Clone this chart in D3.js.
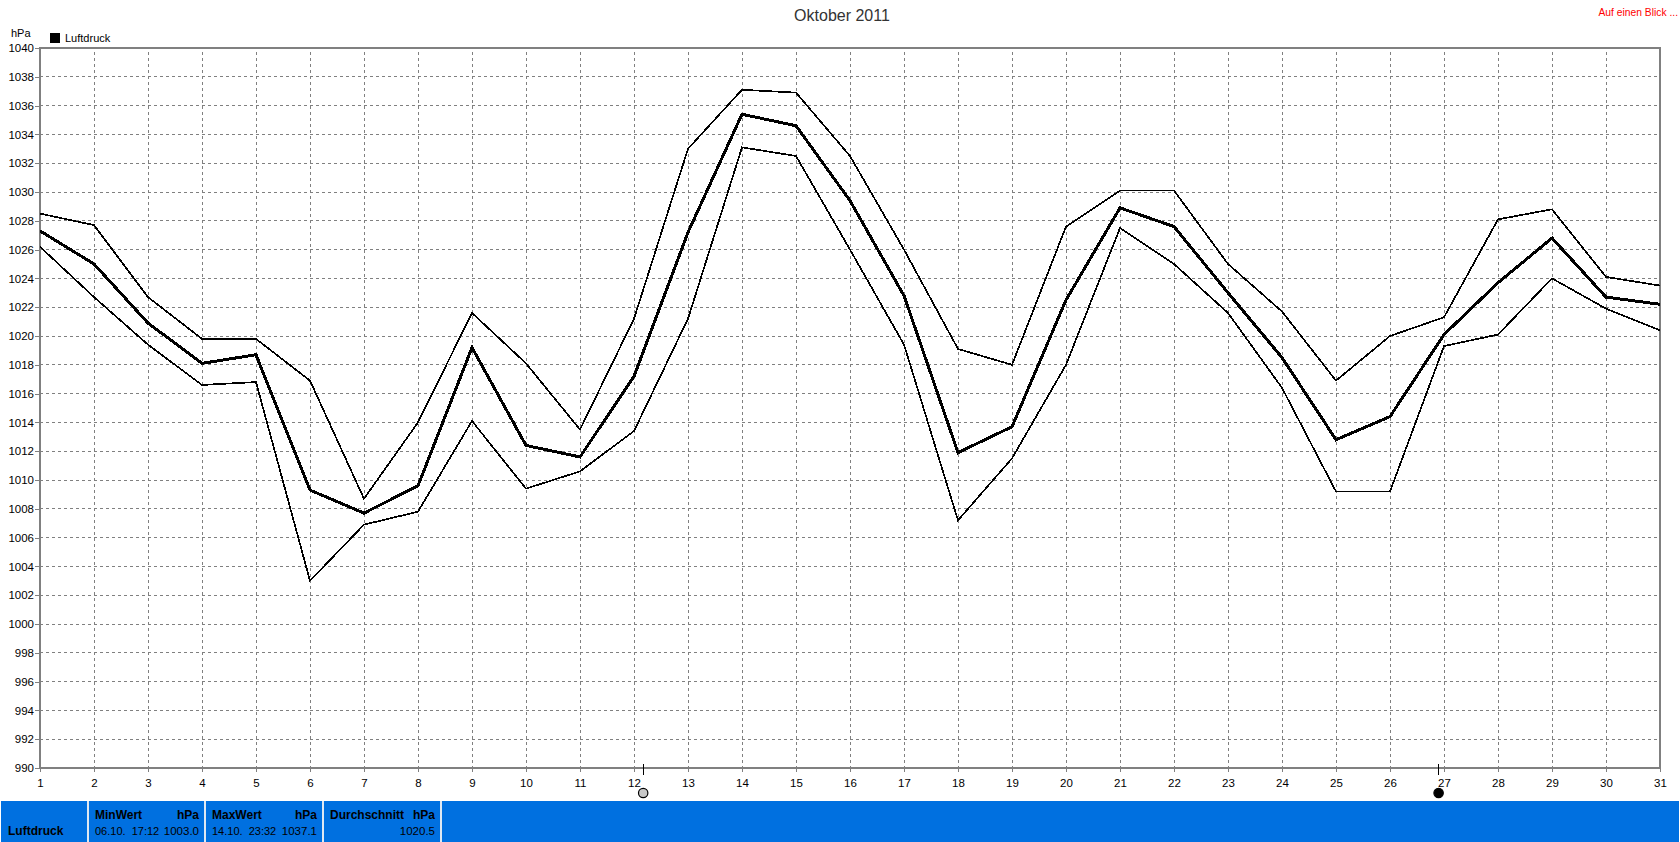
<!DOCTYPE html>
<html><head><meta charset="utf-8">
<script src="https://cdn.jsdelivr.net/npm/d3@7"></script>
<style>
html,body{margin:0;padding:0;background:#fff;overflow:hidden}
svg{display:block;font-family:"Liberation Sans",Arial,sans-serif;font-size:11px}
text{fill:#000}
</style></head><body><svg id="c" width="1680" height="842"></svg>
<script>
const days = d3.range(1, 32);
const high = [1028.5,1027.7,1022.7,1019.8,1019.8,1016.9,1008.7,1014.0,1021.6,1018.1,1013.5,1021.2,1033.0,1037.1,1036.9,1032.5,1026.0,1019.1,1018.0,1027.6,1030.1,1030.1,1025.0,1021.7,1016.9,1020.0,1021.3,1028.1,1028.8,1024.1,1023.5];
const mean = [1027.3,1025.0,1020.9,1018.1,1018.7,1009.3,1007.7,1009.6,1019.2,1012.4,1011.6,1017.2,1027.2,1035.4,1034.6,1029.4,1022.8,1011.9,1013.7,1022.5,1028.9,1027.6,1023.0,1018.5,1012.8,1014.4,1020.1,1023.7,1026.8,1022.7,1022.2];
const low  = [1026.2,1022.7,1019.4,1016.6,1016.8,1003.0,1006.9,1007.8,1014.1,1009.4,1010.6,1013.4,1021.2,1033.1,1032.5,1026.0,1019.4,1007.2,1011.5,1018.0,1027.5,1025.0,1021.6,1016.4,1009.2,1009.2,1019.3,1020.1,1024.0,1021.9,1020.4];
const yTicks = d3.range(990, 1041, 2);
const moonDays = [12.17, 26.9];
const moonFill = ["#c8c8c8", "#000"];
const panelEdges = [1, 88, 205, 323, 441, 1679];
const statHeads = [["MinWert","hPa"],["MaxWert","hPa"],["Durchschnitt","hPa"]];
const statRows = [["06.10.  17:12","1003.0"],["14.10.  23:32","1037.1"],["","1020.5"]];

const L=40,R=1660,T=48,B=768;
const x=d3.scaleLinear().domain([1,31]).range([L,R]);
const y=d3.scaleLinear().domain([990,1040]).range([B,T]);
const svg=d3.select("#c");
const gray="#808080";

// grid
const grid=svg.append("g").attr("shape-rendering","crispEdges").attr("stroke",gray).attr("stroke-dasharray","3,3");
grid.selectAll(".h").data(yTicks.slice(1,-1)).join("line").attr("x1",L).attr("x2",R).attr("y1",d=>y(d)).attr("y2",d=>y(d));
grid.selectAll(".v").data(days.slice(1,-1)).join("line").attr("y1",T+4).attr("y2",B).attr("x1",d=>x(d)).attr("x2",d=>x(d));

// axes
const ay=svg.append("g").attr("transform",`translate(${L},0)`).call(d3.axisLeft(y).tickValues(yTicks).tickSize(5).tickPadding(1).tickFormat(d3.format("d")));
const ax=svg.append("g").attr("transform",`translate(0,${B})`).call(d3.axisBottom(x).tickValues(days).tickSize(4).tickPadding(7).tickFormat(d3.format("d")));
[ay,ax].forEach(a=>{a.select(".domain").remove();a.attr("font-family",null).attr("font-size",null);a.selectAll("line").attr("stroke",gray).attr("shape-rendering","crispEdges");a.selectAll("text").style("font-size","11.5px").style("fill","#000");});

// frame
svg.append("rect").attr("x",L).attr("y",T).attr("width",R-L).attr("height",B-T).attr("fill","none").attr("stroke",gray).attr("stroke-width",2).attr("shape-rendering","crispEdges");

// series
const line=d3.line().x((d,i)=>x(days[i])).y(d=>y(d));
[[high,1.7],[low,1.7],[mean,3]].forEach(([s,w])=>{
  svg.append("path").attr("d",line(s)).attr("fill","none").attr("stroke","#000").attr("stroke-width",w).attr("shape-rendering","crispEdges");
});

// titles
svg.append("text").attr("x",842).attr("y",21).attr("text-anchor","middle").style("font-size","16px").style("fill","#333").text("Oktober 2011");
svg.append("text").attr("x",1678).attr("y",16).attr("text-anchor","end").style("font-size","10.3px").style("fill","#f00").text("Auf einen Blick ...");
svg.append("text").attr("x",11).attr("y",37).text("hPa");
svg.append("rect").attr("x",50).attr("y",33).attr("width",10).attr("height",10).attr("fill","#000");
svg.append("text").attr("x",65).attr("y",42).text("Luftdruck");

// moon markers
moonDays.forEach((d,i)=>{
  svg.append("line").attr("x1",x(d)).attr("x2",x(d)).attr("y1",764).attr("y2",775).attr("stroke","#000").attr("shape-rendering","crispEdges");
  svg.append("circle").attr("cx",x(d)).attr("cy",793).attr("r",4.7).attr("fill",moonFill[i]).attr("stroke","#000").attr("stroke-width",1.2);
});

// stats panel
svg.append("rect").attr("x",panelEdges[0]).attr("y",801).attr("width",panelEdges[5]-panelEdges[0]).attr("height",41).attr("fill","#0070e0");
panelEdges.slice(1,5).forEach(e=>svg.append("rect").attr("x",e-1).attr("y",801).attr("width",2).attr("height",41).attr("fill","#dfe8f2"));
svg.append("text").attr("x",8).attr("y",835).style("font-weight","bold").style("font-size","12px").text("Luftdruck");
statHeads.forEach((h,i)=>{
  const a=panelEdges[i+1], b=panelEdges[i+2];
  svg.append("text").attr("x",a+7).attr("y",819).style("font-weight","bold").style("font-size","12px").text(h[0]);
  svg.append("text").attr("x",b-6).attr("y",819).attr("text-anchor","end").style("font-weight","bold").style("font-size","12px").text(h[1]);
  svg.append("text").attr("x",a+7).attr("y",835).style("white-space","pre").text(statRows[i][0]);
  svg.append("text").attr("x",b-6).attr("y",835).attr("text-anchor","end").style("font-size","11.5px").text(statRows[i][1]);
});
</script></body></html>
